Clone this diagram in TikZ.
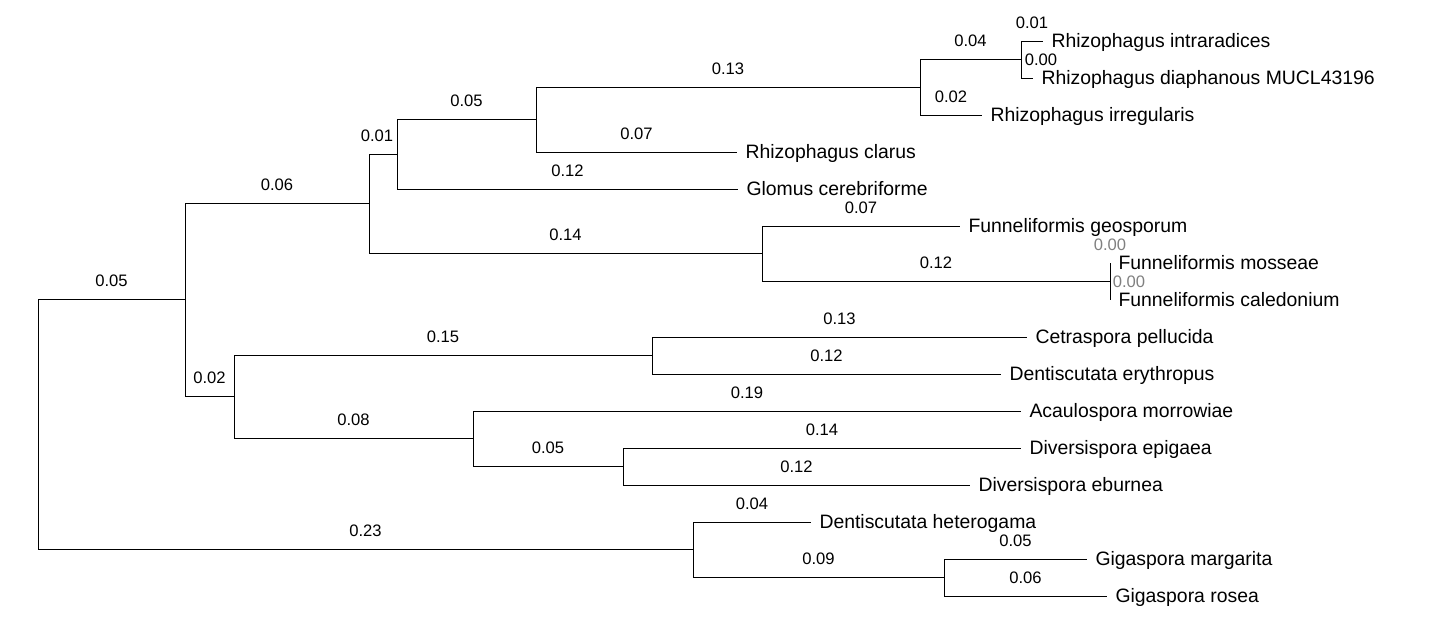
\documentclass[tikz,border=0pt]{standalone}
\usepackage{fontspec}
\setmainfont{Liberation Sans}
\usetikzlibrary{calc}
\definecolor{zero_grey}{RGB}{128, 128, 128}
\tikzstyle{taxon}=[anchor=west,inner xsep=4pt,inner ysep=0pt,
  font=\fontsize{9.7}{11}\selectfont,text height=6.95pt,text depth=0pt]
\tikzstyle{bl}=[pos=0.75,above,inner sep=0pt,yshift=6pt,
  font=\fontsize{8.3}{10}\selectfont]
\tikzstyle{bl0}=[bl,text=zero_grey]

\begin{document}
\begin{tikzpicture}[x=0.5pt,y=-0.5pt,line width=0.5pt]
    \useasboundingbox (0, 0) rectangle (1433, 617);
    \coordinate (r) at (38, 424);
    \coordinate (n1) at (185, 299);
    \coordinate (n2) at (369, 203);
    \coordinate (n3) at (397, 154);
    \coordinate (n4) at (536, 119);
    \coordinate (n5) at (920, 87);
    \coordinate (n6) at (1021, 59);
    \coordinate (n7) at (762, 253);
    \coordinate (n8) at (1110, 281);
    \coordinate (n9) at (234, 396);
    \coordinate (n10) at (652, 355);
    \coordinate (n11) at (473, 438);
    \coordinate (n12) at (623, 466);
    \coordinate (n13) at (693, 549);
    \coordinate (n14) at (944, 577);
    \node [style=taxon] (rint) at (1043, 41) {Rhizophagus intraradices};
    \node [style=taxon] (rdia) at (1033, 78) {Rhizophagus diaphanous MUCL43196};
    \node [style=taxon] (rirr) at (982, 115) {Rhizophagus irregularis};
    \node [style=taxon] (rcla) at (737, 152) {Rhizophagus clarus};
    \node [style=taxon] (gcer) at (738, 189) {Glomus cerebriforme};
    \node [style=taxon] (fgeo) at (960, 226) {Funneliformis geosporum};
    \node [style=taxon] (fmos) at (1110, 263) {Funneliformis mosseae};
    \node [style=taxon] (fcal) at (1110, 300) {Funneliformis caledonium};
    \node [style=taxon] (cpel) at (1027, 337) {Cetraspora pellucida};
    \node [style=taxon] (dery) at (1001, 374) {Dentiscutata erythropus};
    \node [style=taxon] (amor) at (1021, 411) {Acaulospora morrowiae};
    \node [style=taxon] (depi) at (1021, 448) {Diversispora epigaea};
    \node [style=taxon] (debu) at (970, 485) {Diversispora eburnea};
    \node [style=taxon] (dhet) at (811, 522) {Dentiscutata heterogama};
    \node [style=taxon] (gmar) at (1087, 559) {Gigaspora margarita};
    \node [style=taxon] (gros) at (1107, 596) {Gigaspora rosea};
    \draw (r) |- node [style=bl] {0.05} (n1);
    \draw (r) |- node [style=bl] {0.23} (n13);
    \draw (n1) |- node [style=bl] {0.06} (n2);
    \draw (n1) |- node [style=bl] {0.02} (n9);
    \draw (n2) |- node [style=bl,xshift=-3pt] {0.01} (n3);
    \draw (n2) |- node [style=bl] {0.14} (n7);
    \draw (n3) |- node [style=bl] {0.05} (n4);
    \draw (n3) |- node [style=bl] {0.12} (gcer.west);
    \draw (n4) |- node [style=bl] {0.13} (n5);
    \draw (n4) |- node [style=bl] {0.07} (rcla.west);
    \draw (n5) |- node [style=bl] {0.04} (n6);
    \draw (n5) |- node [style=bl] {0.02} (rirr.west);
    \draw (n6) |- node [style=bl] {0.01} (rint.west);
    \draw (n6) |- node [style=bl,xshift=7pt] {0.00} (rdia.west);
    \draw (n7) |- node [style=bl] {0.07} (fgeo.west);
    \draw (n7) |- node [style=bl] {0.12} (n8);
    \draw (n8) |- node [style=bl0] {0.00} (fmos.west);
    \draw (n8) |- node [style=bl0,xshift=9.5pt] {0.00} (fcal.west);
    \draw (n9) |- node [style=bl] {0.15} (n10);
    \draw (n9) |- node [style=bl] {0.08} (n11);
    \draw (n10) |- node [style=bl] {0.13} (cpel.west);
    \draw (n10) |- node [style=bl] {0.12} (dery.west);
    \draw (n11) |- node [style=bl] {0.19} (amor.west);
    \draw (n11) |- node [style=bl] {0.05} (n12);
    \draw (n12) |- node [style=bl] {0.14} (depi.west);
    \draw (n12) |- node [style=bl] {0.12} (debu.west);
    \draw (n13) |- node [style=bl] {0.04} (dhet.west);
    \draw (n13) |- node [style=bl] {0.09} (n14);
    \draw (n14) |- node [style=bl] {0.05} (gmar.west);
    \draw (n14) |- node [style=bl] {0.06} (gros.west);
\end{tikzpicture}
\end{document}
